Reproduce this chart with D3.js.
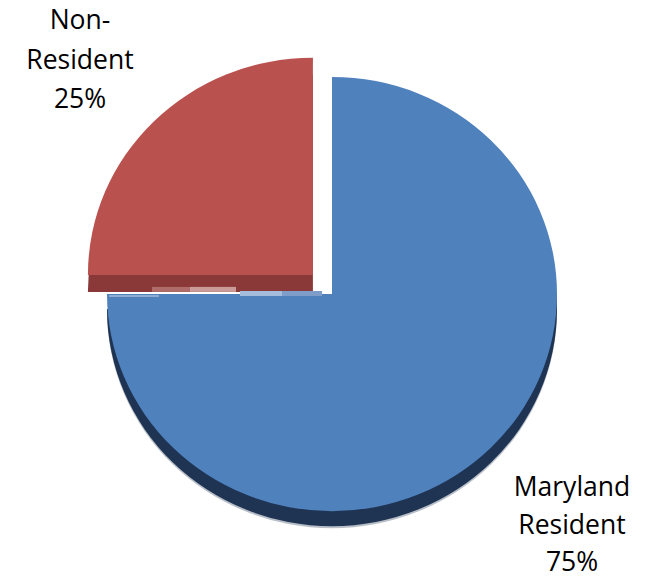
<!DOCTYPE html>
<html>
<head>
<meta charset="utf-8">
<script src="https://cdn.jsdelivr.net/npm/d3@7"></script>
<style>
  html, body { margin: 0; padding: 0; background: #fff; }
  svg { display: block; }
  text { font-family: "Open Sans", "Liberation Sans", sans-serif; fill: #000; }
</style>
</head>
<body>
<svg id="chart" width="646" height="578"></svg>
<script>
// ---- data ----
const categories = ["Maryland Resident", "Non-Resident"];
const values = [75, 25];
const labelLines = [["Maryland", "Resident", "75%"], ["Non-", "Resident", "25%"]];
const faceColors = ["#4f81bd", "#b9524f"];
const sideColors = ["#1f3452", "#8a3838"];

// ---- layout ----
const W = 646, H = 578;
const cx = 332, cy = 294;
const rx = 225, yScale = 0.965;
const depths = [15, 17];
const explode = [0, 27];
const labelPos = [[572, 496], [80, 29]];
const lineH = [37.5, 39.5];

const svg = d3.select("#chart");

const pie = d3.pie().sort(null).value(d => d).startAngle(0).endAngle(2 * Math.PI);
const arcs = pie(values);
const arc = d3.arc().innerRadius(0).outerRadius(rx);

arcs.forEach((a, i) => {
  const mid = (a.startAngle + a.endAngle) / 2;
  const ox = Math.sin(mid) * explode[i];
  const oy = -Math.cos(mid) * explode[i];
  const g = svg.append("g")
    .attr("transform", `translate(${cx + ox},${cy + oy}) scale(1,${yScale})`);
  // faint shadow
  g.append("path")
    .attr("d", arc(a))
    .attr("transform", `translate(0,${(depths[i] + 2) / yScale})`)
    .attr("fill", i === 0 ? "#9aa4b0" : "none")
    .attr("opacity", 0.7);
  // side (depth)
  g.append("path")
    .attr("d", arc(a))
    .attr("transform", `translate(0,${depths[i] / yScale})`)
    .attr("fill", sideColors[i]);
  // face
  g.append("path")
    .attr("d", arc(a))
    .attr("fill", faceColors[i]);
});

// small light highlight strips along the slice seam (rendering artefacts in the original)
const seam = svg.append("g");
const redCy = cy - explode[1] * Math.SQRT1_2;
seam.append("rect").attr("x", cx - 180).attr("y", redCy + 12).attr("width", 38).attr("height", 5).attr("fill", "#b06c6a");
seam.append("rect").attr("x", cx - 142).attr("y", redCy + 12).attr("width", 46).attr("height", 5).attr("fill", "#c99b99");
seam.append("rect").attr("x", cx - 92).attr("y", cy - 3).attr("width", 42).attr("height", 5).attr("fill", "#a5bddc");
seam.append("rect").attr("x", cx - 50).attr("y", cy - 3).attr("width", 40).attr("height", 5).attr("fill", "#7e9ec9");
seam.append("rect").attr("x", cx - rx + 2).attr("y", cy + 1).attr("width", 50).attr("height", 2).attr("fill", "#8fabd2");

// ---- labels ----
categories.forEach((c, i) => {
  const t = svg.append("text")
    .attr("text-anchor", "middle")
    .attr("font-size", 26.5);
  labelLines[i].forEach((ln, j) => {
    t.append("tspan")
      .attr("x", labelPos[i][0])
      .attr("y", labelPos[i][1] + j * lineH[i])
      .text(ln);
  });
});
</script>
</body>
</html>
